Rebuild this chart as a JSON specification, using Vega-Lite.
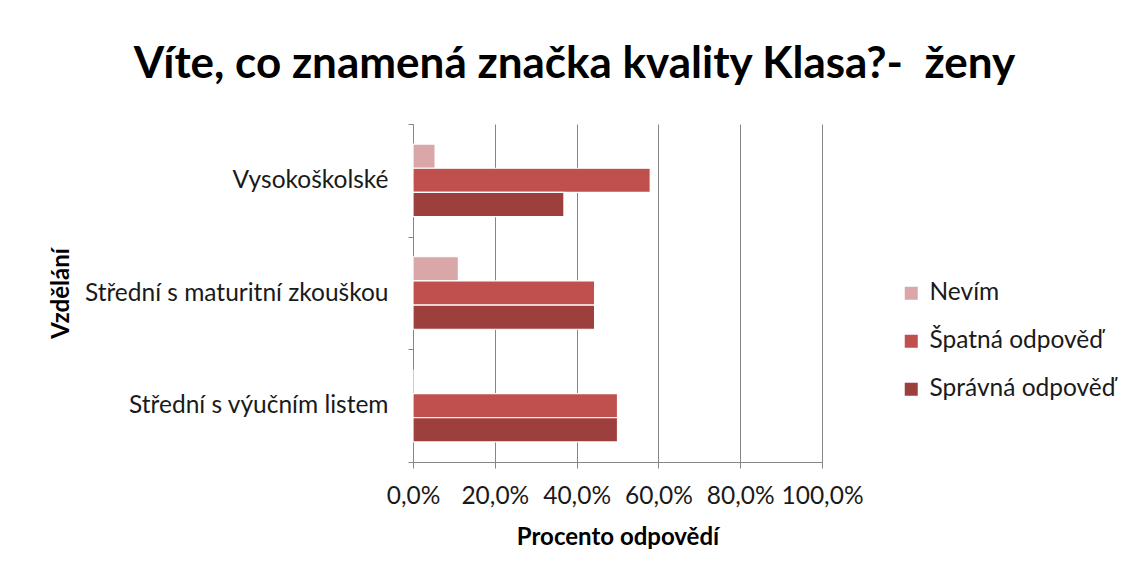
{
  "$schema": "https://vega.github.io/schema/vega-lite/v6.json",
  "autosize": {"type": "none"},
  "width": 409,
  "height": 338,
  "padding": {"left": 413, "top": 124, "right": 308, "bottom": 113},
  "background": "white",
  "title": {
    "text": "Víte, co znamená značka kvality Klasa?-\u00a0 ženy",
    "font": "Lato",
    "fontSize": 44,
    "fontWeight": "bold",
    "color": "#000000",
    "anchor": "middle",
    "frame": "group",
    "dx": -43,
    "offset": 24
  },
  "data": {
    "values": [
      {"vzdelani": "Vysokoškolské", "odpoved": "Nevím", "procento": 0.054},
      {"vzdelani": "Vysokoškolské", "odpoved": "Špatná odpověď", "procento": 0.58},
      {"vzdelani": "Vysokoškolské", "odpoved": "Správná odpověď", "procento": 0.369},
      {"vzdelani": "Střední s maturitní zkouškou", "odpoved": "Nevím", "procento": 0.111},
      {"vzdelani": "Střední s maturitní zkouškou", "odpoved": "Špatná odpověď", "procento": 0.444},
      {"vzdelani": "Střední s maturitní zkouškou", "odpoved": "Správná odpověď", "procento": 0.444},
      {"vzdelani": "Střední s výučním listem", "odpoved": "Nevím", "procento": 0.0},
      {"vzdelani": "Střední s výučním listem", "odpoved": "Špatná odpověď", "procento": 0.5},
      {"vzdelani": "Střední s výučním listem", "odpoved": "Správná odpověď", "procento": 0.5}
    ]
  },
  "mark": {"type": "bar", "stroke": "white", "strokeWidth": 1.2},
  "encoding": {
    "y": {
      "field": "vzdelani",
      "type": "nominal",
      "sort": ["Vysokoškolské", "Střední s maturitní zkouškou", "Střední s výučním listem"],
      "scale": {"paddingInner": 0, "paddingOuter": 0},
      "title": "Vzdělání",
      "axis": {
        "tickBand": "extent",
        "tickSize": 5,
        "tickColor": "#868686",
        "domainColor": "#868686",
        "labelPadding": 20,
        "labelLimit": 400,
        "labelFont": "Lato",
        "labelFontSize": 24.5,
        "labelColor": "#1a1a1a",
        "titleFont": "Lato",
        "titleFontSize": 24,
        "titleFontWeight": "bold",
        "titleColor": "#000000",
        "titleX": -340,
        "titleY": 169,
        "grid": false
      }
    },
    "yOffset": {
      "field": "odpoved",
      "type": "nominal",
      "sort": ["Nevím", "Špatná odpověď", "Správná odpověď"],
      "scale": {"paddingInner": 0, "paddingOuter": 0.83}
    },
    "x": {
      "field": "procento",
      "type": "quantitative",
      "scale": {"domain": [0, 1], "nice": false},
      "title": "Procento odpovědí",
      "axis": {
        "values": [0, 0.2, 0.4, 0.6, 0.8, 1.0],
        "labelExpr": "replace(format(datum.value, '.1%'), '.', ',')",
        "grid": true,
        "gridColor": "#868686",
        "gridWidth": 1,
        "tickSize": 6,
        "tickColor": "#868686",
        "domainColor": "#868686",
        "labelPadding": 16,
        "labelFont": "Lato",
        "labelFontSize": 24.5,
        "labelColor": "#1a1a1a",
        "labelFlush": false,
        "titleFont": "Lato",
        "titleFontSize": 24,
        "titleFontWeight": "bold",
        "titleColor": "#000000",
        "titlePadding": 18
      }
    },
    "color": {
      "field": "odpoved",
      "type": "nominal",
      "sort": ["Nevím", "Špatná odpověď", "Správná odpověď"],
      "scale": {
        "domain": ["Nevím", "Špatná odpověď", "Správná odpověď"],
        "range": ["#D9A7A7", "#C0504D", "#9C3F3D"]
      },
      "legend": {
        "title": null,
        "orient": "none",
        "legendX": 486,
        "legendY": 157,
        "symbolType": "square",
        "symbolSize": 169,
        "symbolStrokeWidth": 0,
        "labelFont": "Lato",
        "labelFontSize": 24.5,
        "labelColor": "#1a1a1a",
        "labelOffset": 6,
        "labelLimit": 0,
        "rowPadding": 23,
        "padding": 0
      }
    }
  },
  "config": {
    "view": {"stroke": null},
    "axis": {"domainWidth": 1, "tickWidth": 1}
  }
}
